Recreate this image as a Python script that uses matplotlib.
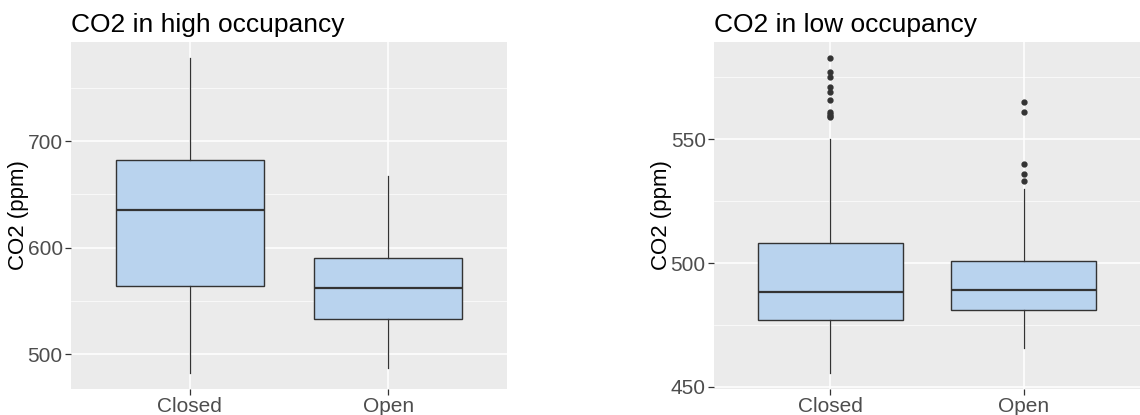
import matplotlib
matplotlib.use("Agg")
import matplotlib.pyplot as plt
from matplotlib.ticker import MultipleLocator

plt.rcParams['font.family'] = ['Liberation Sans', 'DejaVu Sans']

groups = ["Closed", "Open"]

# high occupancy: whisker low, Q1, median, Q3, whisker high
high_whislo = [482, 487]
high_q1 = [564, 533]
high_med = [635, 562]
high_q3 = [682, 590]
high_whishi = [778, 667]
high_fliers = [[], []]

# low occupancy
low_whislo = [455.5, 465.5]
low_q1 = [477, 481]
low_med = [488.3, 489.2]
low_q3 = [508, 501]
low_whishi = [550, 530]
low_fliers = [
    [583, 577, 575, 571, 569, 566, 561, 560.2, 559.5, 558.9],
    [565, 561, 540, 536, 533],
]


def make_stats(whislo, q1, med, q3, whishi, fliers):
    stats = []
    for i in range(len(groups)):
        stats.append(dict(whislo=whislo[i], q1=q1[i], med=med[i], q3=q3[i],
                          whishi=whishi[i], fliers=fliers[i], label=groups[i]))
    return stats


def draw_panel(ax, stats, title, major, ylim):
    ax.set_facecolor("#EBEBEB")
    ax.bxp(stats, positions=[1, 2], widths=0.75, patch_artist=True,
           showcaps=False,
           boxprops=dict(facecolor="#B9D3EE", edgecolor="#333333", linewidth=1.0),
           medianprops=dict(color="#333333", linewidth=1.6),
           whiskerprops=dict(color="#333333", linewidth=0.9),
           flierprops=dict(marker="o", markerfacecolor="#333333",
                           markeredgecolor="#333333", markersize=3.5),
           zorder=3)
    ax.set_xlim(0.4, 2.6)
    ax.set_ylim(*ylim)
    ax.yaxis.set_major_locator(MultipleLocator(major))
    ax.yaxis.set_minor_locator(MultipleLocator(major / 2))
    ax.grid(which="major", color="white", linewidth=1.1, zorder=0)
    ax.grid(which="minor", axis="y", color="white", linewidth=0.5, zorder=0)
    ax.set_axisbelow(True)
    for s in ax.spines.values():
        s.set_visible(False)
    ax.tick_params(which="major", length=4, width=0.9, color="#333333",
                   labelsize=15, labelcolor="#4D4D4D", pad=2)
    ax.tick_params(which="minor", length=0)
    ax.set_xticks([1, 2])
    ax.set_xticklabels(groups)
    ax.set_ylabel("CO2 (ppm)", fontsize=16, color="black", labelpad=-1)
    ax.set_title(title, loc="left", fontsize=19, pad=7)


fig = plt.figure(figsize=(11.4, 4.15), dpi=100)
ax1 = fig.add_axes([71 / 1140, 1 - 389 / 415, 436 / 1140, 347 / 415])
ax2 = fig.add_axes([714 / 1140, 1 - 389 / 415, 426 / 1140, 347 / 415])

draw_panel(ax1, make_stats(high_whislo, high_q1, high_med, high_q3, high_whishi, high_fliers),
           "CO2 in high occupancy", 100, (467.2, 793.2))
draw_panel(ax2, make_stats(low_whislo, low_q1, low_med, low_q3, low_whishi, low_fliers),
           "CO2 in low occupancy", 50, (449.1, 589.3))

fig.savefig("out.png", dpi=100)
